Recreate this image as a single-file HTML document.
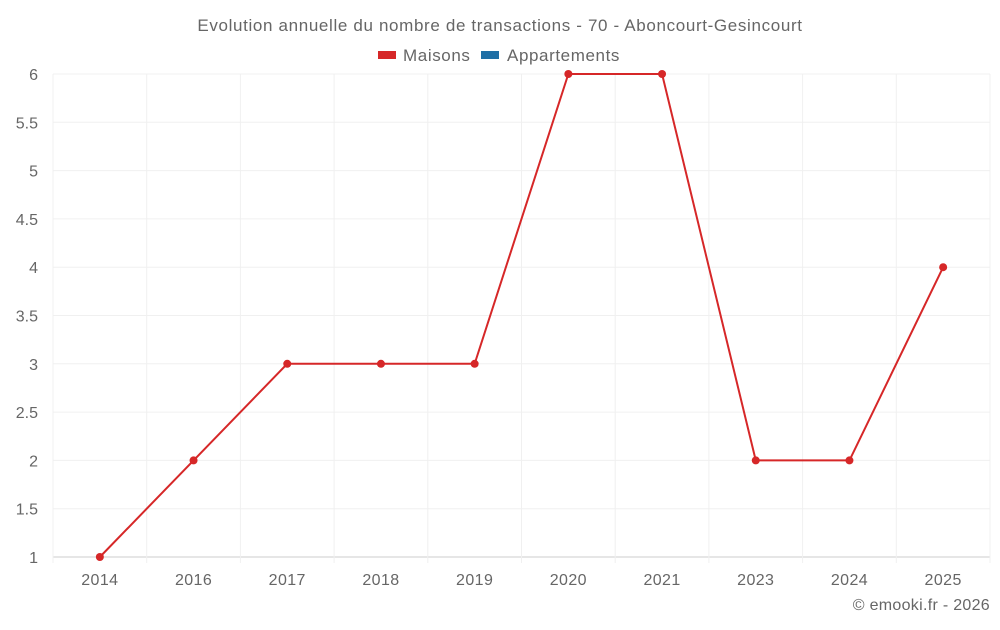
<!DOCTYPE html>
<html><head><meta charset="utf-8"><style>
body{margin:0;background:#fff;font-family:"Liberation Sans",sans-serif;}
svg text{font-family:"Liberation Sans",sans-serif;fill:#666;}
</style></head><body>
<svg id="chart" width="1000" height="625">
<text x="500" y="31" text-anchor="middle" font-size="17" letter-spacing="0.65">Evolution annuelle du nombre de transactions - 70 - Aboncourt-Gesincourt</text>
<g>
<rect x="378" y="51" width="18" height="8" fill="#d62728"/>
<text x="403" y="61" font-size="17" letter-spacing="0.6">Maisons</text>
<rect x="481" y="51" width="18" height="8" fill="#1f6fa5"/>
<text x="507" y="61" font-size="17" letter-spacing="0.6">Appartements</text>
</g>
<g id="grid"></g><g id="axes"></g><g id="series"></g>
<text x="990" y="610" text-anchor="end" font-size="16" letter-spacing="0.3">© emooki.fr - 2026</text>
</svg>
<script>
const categories=["2014","2016","2017","2018","2019","2020","2021","2023","2024","2025"];
const maisons=[1,2,3,3,3,6,6,2,2,4];
const yTicks=[1,1.5,2,2.5,3,3.5,4,4.5,5,5.5,6];
const X0=53,X1=990,Y0=557,Y1=74,YMIN=1,YMAX=6;
const bw=(X1-X0)/categories.length;
const xs=i=>X0+bw*(i+0.5);
const ys=v=>Y0-(v-YMIN)/(YMAX-YMIN)*(Y0-Y1);
const ns="http://www.w3.org/2000/svg";
function mk(tag,attrs,parent){const e=document.createElementNS(ns,tag);for(const k in attrs)e.setAttribute(k,attrs[k]);document.getElementById(parent).appendChild(e);return e;}
yTicks.forEach(t=>{
  const l=mk("line",{x1:X0,x2:X1,y1:ys(t),y2:ys(t),stroke:t===YMIN?"#ccc":"#f0f0f0","stroke-width":1},"grid");
  
  
  const tx=mk("text",{x:38,y:ys(t)+6,"text-anchor":"end","font-size":16},"axes");
  tx.textContent=t;
  
  
});
for(let i=0;i<=categories.length;i++){
  const l=mk("line",{x1:X0+bw*i,x2:X0+bw*i,y1:Y1,y2:Y0+6,stroke:"#f0f0f0","stroke-width":1},"grid");
  
  
}
categories.forEach((c,i)=>{
  const tx=mk("text",{x:xs(i),y:585,"text-anchor":"middle","font-size":16,"letter-spacing":0.4},"axes");
  tx.textContent=c;
  
  
});
const path=mk("polyline",{points:maisons.map((v,i)=>xs(i)+","+ys(v)).join(" "),fill:"none",stroke:"#d62728","stroke-width":2},"series");


maisons.forEach((v,i)=>{
  const p=mk("circle",{cx:xs(i),cy:ys(v),r:4,fill:"#d62728"},"series");
  
  
});
</script>
</body></html>
